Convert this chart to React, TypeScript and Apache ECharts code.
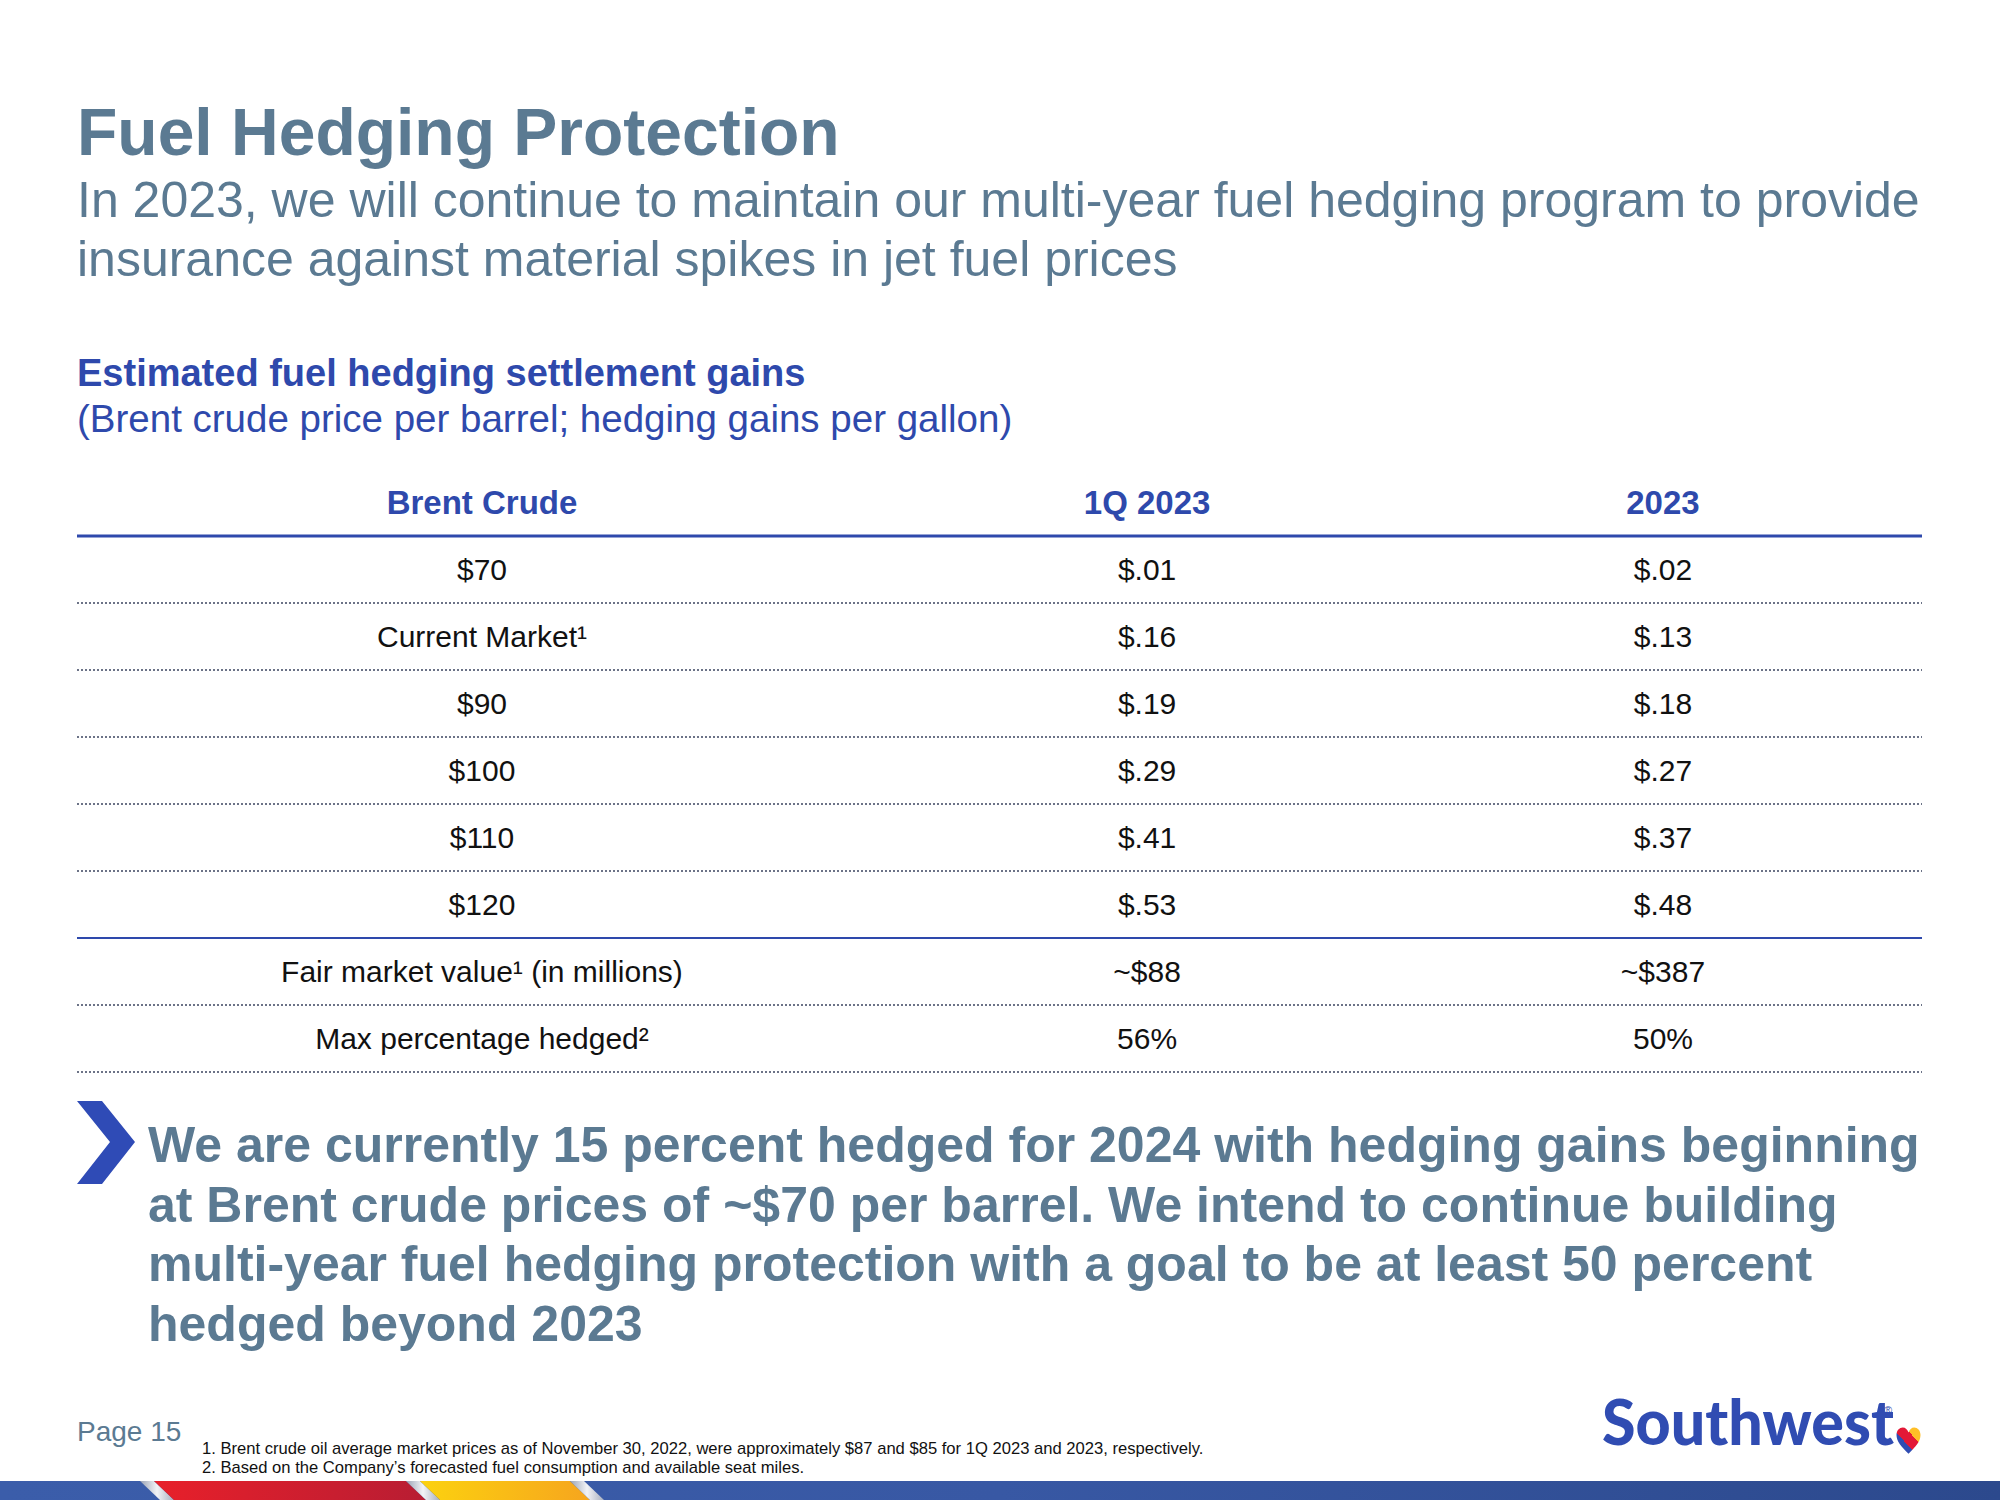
import React, { useEffect, useRef } from 'react';
import * as echarts from 'echarts';

const TITLE = 'Fuel Hedging Protection';
const SUBTITLE_LINES = [
  'In 2023, we will continue to maintain our multi-year fuel hedging program to provide',
  'insurance against material spikes in jet fuel prices',
];
const TABLE_TITLE = 'Estimated fuel hedging settlement gains';
const TABLE_SUBTITLE = '(Brent crude price per barrel; hedging gains per gallon)';
const HEADERS = ['Brent Crude', '1Q 2023', '2023'];
const ROW_LABELS = [
  '$70',
  'Current Market\u00B9',
  '$90',
  '$100',
  '$110',
  '$120',
  'Fair market value\u00B9 (in millions)',
  'Max percentage hedged\u00B2',
];
const Q1_2023 = ['$.01', '$.16', '$.19', '$.29', '$.41', '$.53', '~$88', '56%'];
const FY_2023 = ['$.02', '$.13', '$.18', '$.27', '$.37', '$.48', '~$387', '50%'];
const BULLET_LINES = [
  'We are currently 15 percent hedged for 2024 with hedging gains beginning',
  'at Brent crude prices of ~$70 per barrel. We intend to continue building',
  'multi-year fuel hedging protection with a goal to be at least 50 percent',
  'hedged beyond 2023',
];
const PAGE_LABEL = 'Page 15';
const FOOTNOTES = [
  '1. Brent crude oil average market prices as of November 30, 2022, were approximately $87 and $85 for 1Q 2023 and 2023, respectively.',
  '2. Based on the Company\u2019s forecasted fuel consumption and available seat miles.',
];
const LOGO_TEXT = 'Southwest';

// layout / style
const FONT = '"Liberation Sans", Arial, Helvetica, sans-serif';
const SLATE = '#5B7A92';
const BLUE = '#2E49AC';
const INK = '#111111';
const LEFT = 77;
const RIGHT = 1922;
const GRID_TOP = 469;
const ROW_H = 67;
const COL_POS = [0.2195, 0.58, 0.8596];

const HEART_D =
  'M50,92 C22,70 2,50 2,28 C2,12 14,2 27,2 C38,2 46,9 50,19 C54,9 62,2 73,2 C86,2 98,12 98,28 C98,50 78,70 50,92 Z';

function measure(text: string, font: string): number {
  try {
    const c = document.createElement('canvas');
    const ctx = c.getContext('2d');
    if (!ctx) return 0;
    ctx.font = font;
    return ctx.measureText(text).width;
  } catch (e) {
    return 0;
  }
}

let heartRegistered = false;

export default function App() {
  const ref = useRef<HTMLDivElement>(null);

  useEffect(() => {
    if (!ref.current) return;
    if (!heartRegistered) {
      try {
        echarts.graphic.registerShape('swheart', echarts.graphic.extendPath(HEART_D, {}) as any);
      } catch (e) {}
      heartRegistered = true;
    }
    const chart = echarts.init(ref.current, null, { renderer: 'svg' });

    const rowKeys = ['__header__', ...ROW_LABELS];
    const headerData = HEADERS.map((h, c) => ({ name: h, value: [COL_POS[c], 0] }));
    const bodyData: any[] = [];
    ROW_LABELS.forEach((lab, r) => {
      const vals = [lab, Q1_2023[r], FY_2023[r]];
      vals.forEach((v, c) => bodyData.push({ name: v, value: [COL_POS[c], r + 1] }));
    });

    const logoFontSize = 62;
    const logoFont = `900 ${logoFontSize}px Lato`;
    const logoW = measure(LOGO_TEXT, logoFont);
    const logoScale = logoW > 0 ? 292 / logoW : 1;

    const text = (t: string, x: number, y: number, size: number, color: string, weight: any = 'normal', extra: any = {}) => ({
      type: 'text',
      x,
      y,
      z: 50,
      silent: true,
      style: {
        text: t,
        fill: color,
        fontSize: size,
        fontWeight: weight,
        fontFamily: FONT,
        align: 'left',
        verticalAlign: 'middle',
        ...extra,
      },
    });

    const graphics: any[] = [];
    graphics.push(text(TITLE, LEFT, 132, 66, SLATE, 'bold'));
    SUBTITLE_LINES.forEach((l, i) => graphics.push(text(l, LEFT, 200 + i * 59, 50, SLATE)));
    graphics.push(text(TABLE_TITLE, LEFT, 373, 38, BLUE, 'bold'));
    graphics.push(text(TABLE_SUBTITLE, LEFT, 418, 38.5, BLUE));

    // solid blue table rules
    [1, 7].forEach((k) =>
      graphics.push({
        type: 'line',
        z: 60,
        silent: true,
        shape: { x1: LEFT, y1: GRID_TOP + ROW_H * k, x2: RIGHT, y2: GRID_TOP + ROW_H * k },
        style: { stroke: BLUE, lineWidth: k === 1 ? 3 : 2 },
      })
    );

    // chevron
    graphics.push({
      type: 'polygon',
      z: 50,
      silent: true,
      shape: {
        points: [
          [77, 1101],
          [102, 1101],
          [135, 1142],
          [102, 1184],
          [77, 1184],
          [110, 1142],
        ],
      },
      style: { fill: '#2F4BB6' },
    });
    BULLET_LINES.forEach((l, i) => graphics.push(text(l, 148, 1145 + i * 59.5, 50, SLATE, 'bold')));

    graphics.push(text(PAGE_LABEL, LEFT, 1431, 28, SLATE));
    FOOTNOTES.forEach((f, i) => graphics.push(text(f, 202, 1448 + i * 19, 16.6, INK)));

    // bottom stripe
    graphics.push({
      type: 'rect',
      z: 40,
      silent: true,
      shape: { x: 0, y: 1481, width: 2000, height: 19 },
      style: {
        fill: new echarts.graphic.LinearGradient(0, 0, 1, 0, [
          { offset: 0, color: '#3B5DAA' },
          { offset: 0.5, color: '#3858A4' },
          { offset: 1, color: '#2C498D' },
        ]),
      },
    });
    const para = (x0: number, x1: number, fill: any) => ({
      type: 'polygon',
      z: 41,
      silent: true,
      shape: { points: [[x0, 1481], [x1, 1481], [x1 + 20, 1500], [x0 + 20, 1500]] },
      style: { fill },
    });
    const silver = new echarts.graphic.LinearGradient(0, 0, 1, 0, [
      { offset: 0, color: '#9AA3B5' },
      { offset: 0.5, color: '#F2F3F6' },
      { offset: 1, color: '#A7AEBE' },
    ]);
    graphics.push(para(140, 154, silver));
    graphics.push(
      para(
        154,
        406,
        new echarts.graphic.LinearGradient(0, 0, 1, 0, [
          { offset: 0, color: '#E8202A' },
          { offset: 1, color: '#B81D33' },
        ])
      )
    );
    graphics.push(para(406, 420, silver));
    graphics.push(
      para(
        420,
        570,
        new echarts.graphic.LinearGradient(0, 0, 1, 0, [
          { offset: 0, color: '#FCD20F' },
          { offset: 1, color: '#F6A51E' },
        ])
      )
    );
    graphics.push(para(570, 584, silver));

    // logo
    graphics.push({
      type: 'text',
      x: 1602,
      y: 1452,
      scaleX: logoScale,
      z: 50,
      silent: true,
      style: {
        text: LOGO_TEXT,
        fill: '#304CB2',
        fontSize: logoFontSize,
        fontWeight: 900,
        fontFamily: 'Lato, "Open Sans", sans-serif',
        align: 'left',
        verticalAlign: 'bottom',
      },
    });
    graphics.push({
      type: 'text',
      x: 1884,
      y: 1404,
      z: 50,
      silent: true,
      style: { text: '\u00AE', fill: '#304CB2', fontSize: 11, fontFamily: FONT },
    });
    graphics.push({
      type: 'swheart',
      x: 1896,
      y: 1427,
      scaleX: 0.25,
      scaleY: 0.29,
      z: 50,
      silent: true,
      style: {
        fill: new echarts.graphic.LinearGradient(0, 1, 1, 0, [
          { offset: 0, color: '#304CB2' },
          { offset: 0.4, color: '#304CB2' },
          { offset: 0.4, color: '#E31837' },
          { offset: 0.68, color: '#E31837' },
          { offset: 0.68, color: '#FFBF27' },
          { offset: 1, color: '#FFBF27' },
        ]),
      },
    });

    chart.setOption({
      animation: false,
      backgroundColor: '#ffffff',
      grid: { left: LEFT, top: GRID_TOP, width: RIGHT - LEFT, height: ROW_H * rowKeys.length },
      xAxis: { type: 'value', min: 0, max: 1, show: false },
      yAxis: {
        type: 'category',
        inverse: true,
        data: rowKeys,
        boundaryGap: true,
        axisLine: { show: false },
        axisTick: { show: false },
        axisLabel: { show: false },
        splitLine: {
          show: true,
          interval: 0,
          showMinLine: false,
          lineStyle: { color: '#3C4660', type: [2, 2], width: 1.5 },
        },
      },
      series: [
        {
          type: 'scatter',
          silent: true,
          symbolSize: 1,
          itemStyle: { color: 'rgba(0,0,0,0)', opacity: 1 },
          data: headerData,
          label: {
            show: true,
            position: 'inside',
            formatter: '{b}',
            color: BLUE,
            opacity: 1,
            fontSize: 33,
            fontWeight: 'bold',
            fontFamily: FONT,
          },
        },
        {
          type: 'scatter',
          silent: true,
          symbolSize: 1,
          itemStyle: { color: 'rgba(0,0,0,0)', opacity: 1 },
          data: bodyData,
          label: {
            show: true,
            position: 'inside',
            formatter: '{b}',
            color: INK,
            opacity: 1,
            fontSize: 30,
            fontFamily: FONT,
          },
        },
      ],
      graphic: { elements: graphics },
    });
    return () => chart.dispose();
  }, []);

  return (
    <div
      ref={ref}
      style={{ position: 'absolute', left: 0, top: 0, width: 2000, height: 1500, background: '#fff' }}
    />
  );
}
